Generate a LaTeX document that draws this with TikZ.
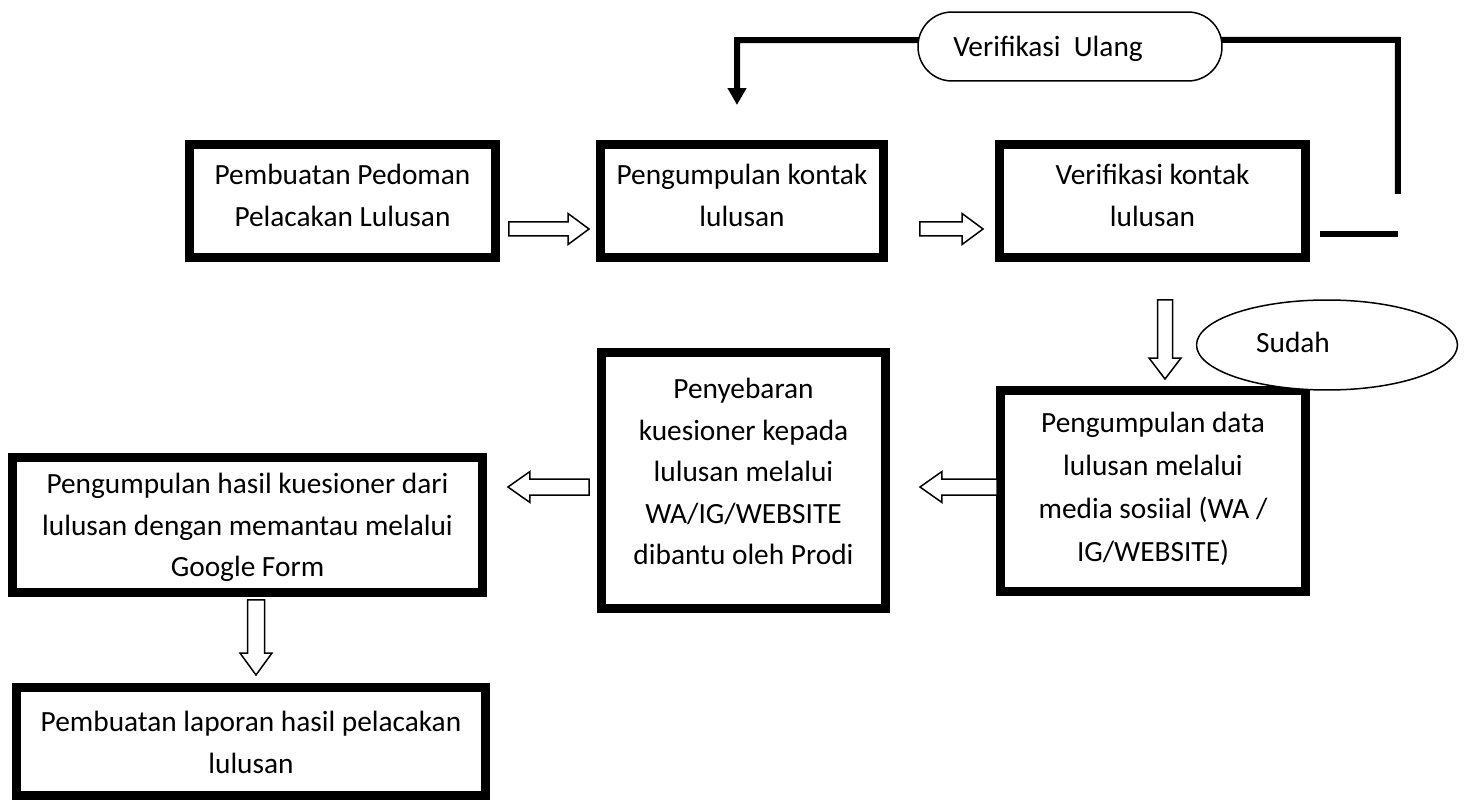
\documentclass[tikz,border=0pt]{standalone}
\usepackage{fontspec}
\setmainfont{Carlito}
\usetikzlibrary{calc,arrows.meta,shapes.geometric}
\newcommand\blockarrow[5]{%
  \draw[hollow] ($(#1)+(#4)$) -- ($(#2)+(#3)+(#4)$) -- ($(#2)+(#3)+(#5)$) -- (#2)
     -- ($(#2)+(#3)-(#5)$) -- ($(#2)+(#3)-(#4)$) -- ($(#1)-(#4)$) -- cycle;}
\begin{document}
\begin{tikzpicture}[x=0.02cm,y=-0.02cm,
  box/.style={draw, line width=0.18cm, rectangle, inner sep=0, outer sep=0, fill=white},
  txt/.style={align=center, inner sep=0, outer sep=0, anchor=north,
    font=\fontsize{16.7pt}{23.6pt}\selectfont},
  lbl/.style={inner sep=0, outer sep=0, anchor=base,
    font=\fontsize{16.7pt}{23.6pt}\selectfont},
  hollow/.style={draw, line width=0.03cm, fill=white, line join=miter},
  loopline/.style={line width=0.12cm, line join=miter},
  oval/.style={draw, line width=0.03cm, fill=white, inner sep=0, outer sep=0}]
\useasboundingbox (0,0) rectangle (1469,800);
\fill[white] (0,0) rectangle (1469,800);

% boxes
\node[box, minimum width=6.12cm, minimum height=2.26cm] (b1) at (342.5,201) {};
\node[box, minimum width=5.66cm, minimum height=2.26cm] (b2) at (742,201) {};
\node[box, minimum width=6.12cm, minimum height=2.26cm] (b3) at (1152.5,201) {};
\node[box, minimum width=6.10cm, minimum height=4.02cm] (b4) at (1153,491) {};
\node[box, minimum width=5.68cm, minimum height=5.12cm] (b5) at (743.5,480.5) {};
\node[box, minimum width=9.40cm, minimum height=2.70cm] (b6) at (247.5,525) {};
\node[box, minimum width=9.38cm, minimum height=2.16cm] (b7) at (251,741.5) {};

% texts
\node[txt] (t1) at ($(b1.north)+(0,11.1)$) {\strut Pembuatan Pedoman\\Pelacakan Lulusan};
\node[txt] (t2) at ($(b2.north)+(0,11.1)$) {\strut Pengumpulan kontak\\lulusan};
\node[txt] (t3) at ($(b3.north)+(0,11.1)$) {\strut Verifikasi kontak\\lulusan};
\node[txt, font=\fontsize{16.7pt}{24.4pt}\selectfont] (t4) at ($(b4.north)+(0,12)$) {\strut Pengumpulan data\\lulusan melalui\\media sosiial (WA /\\IG/WEBSITE)};
\node[txt] (t5) at ($(b5.north)+(0,17.4)$) {\strut Penyebaran\\kuesioner kepada\\lulusan melalui\\WA/IG/WEBSITE\\dibantu oleh Prodi};
\node[txt] (t6) at ($(b6.north)+(0,7.4)$) {\strut Pengumpulan hasil kuesioner dari\\lulusan dengan memantau melalui\\Google Form};
\node[txt] (t7) at ($(b7.north)+(0,15.4)$) {\strut Pembuatan laporan hasil pelacakan\\lulusan};

% hollow arrows
\coordinate (a1s) at ($(b1.east)+(13.5,28)$);
\coordinate (a1e) at ($(b2.west)+(-11.5,28)$);
\coordinate (a2s) at ($(b2.east)+(36.5,28)$);
\coordinate (a2e) at ($(b3.west)+(-16.5,28)$);
\coordinate (a3s) at ($(b3.south)+(12.5,42.5)$);
\coordinate (a3e) at ($(b4.north)+(12,-11.5)$);
\coordinate (a4s) at ($(b4.west)+(-3.5,-4)$);
\coordinate (a4e) at ($(b5.east)+(34.5,6.5)$);
\coordinate (a5s) at ($(b5.west)+(-12.5,6.5)$);
\coordinate (a5e) at ($(b6.east)+(25.5,-38)$);
\coordinate (a6s) at ($(b6.south)+(8.5,7.5)$);
\coordinate (a6e) at ($(b7.north)+(5,-12.5)$);
\blockarrow{a1s}{a1e}{-21,0}{0,7}{0,15.5}
\blockarrow{a2s}{a2e}{-21,0}{0,7}{0,15.5}
\blockarrow{a3s}{a3e}{0,-21}{7.5,0}{16,0}
\blockarrow{a4s}{a4e}{22,0}{0,8}{0,15.5}
\blockarrow{a5s}{a5e}{22,0}{0,8}{0,15.5}
\blockarrow{a6s}{a6e}{0,-22}{8.5,0}{16,0}

% verification loop
\coordinate (r1) at ($(b3.east)+(14.5,33)$);
\coordinate (r2) at ($(b3.east)+(92.5,33)$);
\coordinate (r3) at ($(b3.east)+(92.5,-7)$);
\coordinate (r4) at ($(b3.east)+(92.5,-161)$);
\coordinate (l1) at ($(b2.north)+(-5,-104.5)$);
\coordinate (l2) at ($(b2.north)+(-5,-39.5)$);
\draw[loopline] (r1) -- (r2);
\draw[loopline, -{Triangle[width=0.36cm,length=0.34cm]}] (r3) -- (r4) -- (l1) -- (l2);

% ovals
\node[oval, rectangle, rounded corners=0.68cm, minimum width=6.08cm, minimum height=1.38cm] (vu) at (1070,46.5) {};
\node[lbl] (vut) at (1048,56.5) {Verifikasi\ \ Ulang};
\node[oval, ellipse, minimum width=5.22cm, minimum height=1.8cm] (sd) at (1327,345) {};
\node[lbl] (sdt) at (1293,352) {Sudah};
\end{tikzpicture}
\end{document}
